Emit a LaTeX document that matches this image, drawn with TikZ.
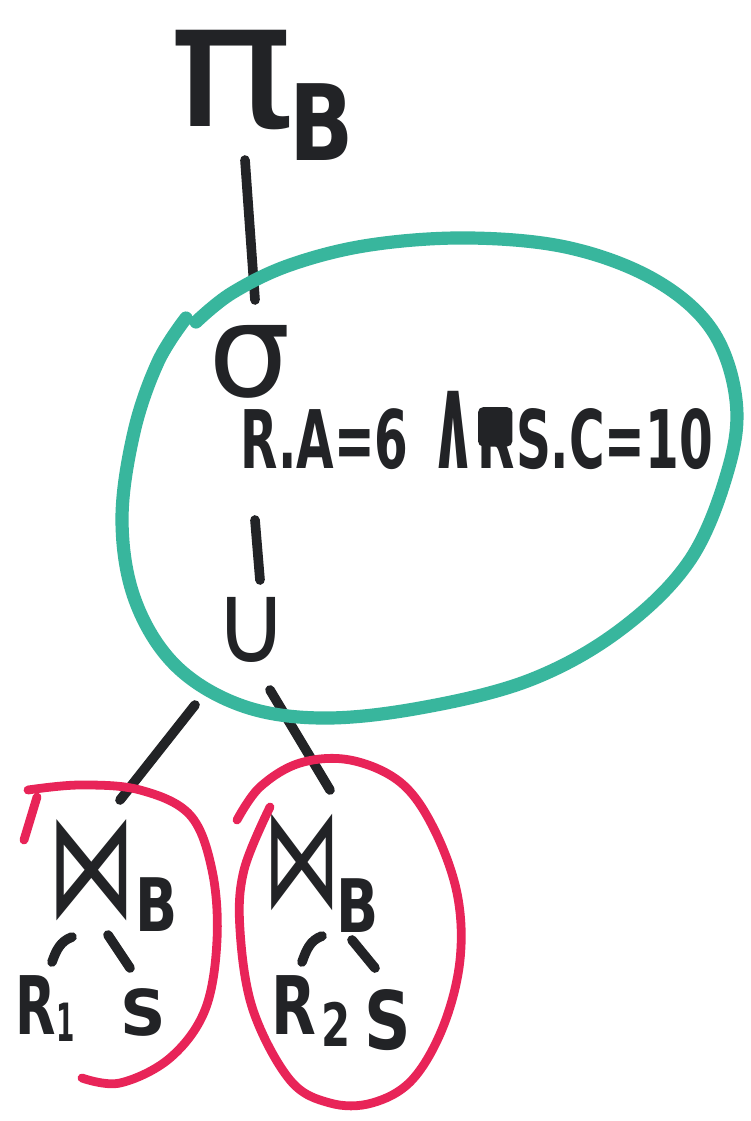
\documentclass[tikz,border=0pt]{standalone}
\usepackage{fontspec}
\setmainfont{DejaVu Sans}
\usetikzlibrary{calc}
\definecolor{inkc}{HTML}{222326}
\definecolor{tealc}{HTML}{38B69D}
\definecolor{redc}{HTML}{E82458}
\newcommand\fsz[1]{\fontsize{#1}{#1}\selectfont\bfseries}
\newcommand\fsr[1]{\fontsize{#1}{#1}\selectfont}
\begin{document}
\begin{tikzpicture}[x=0.02cm,y=-0.02cm,
  ink/.style={draw=inkc,line width=5.5pt,line cap=round},
  glyph/.style={inner sep=0pt,outer sep=0pt,text=inkc},
  condtext/.style={glyph,anchor=base west,font=\fsz{46}},
  tealloop/.style={draw=tealc,line width=7.5pt,line cap=round,line join=round},
  redloop/.style={draw=redc,line width=5pt,line cap=round,line join=round}]
\useasboundingbox[fill=white] (0,0) rectangle (750,1121);

% projection
\node[glyph,font=\fsr{60}] (pi) at (232,80) {\scalebox{2}[1.67]{π}};
\node[glyph,font=\fsz{60}] (piB) at (322,122) {\scalebox{0.8}[1]{B}};

% selection
\node[glyph,font=\fsr{50}] (sigma) at (250,362) {\scalebox{1.48}{σ}};
\node[condtext] (condA) at (240,468) {\scalebox{0.6}[1]{R.A=6}};
\node[condtext] (condAnd) at (430,468) {\scalebox{0.7}[1.65]{∧}};
\node[condtext] (condR) at (477,468) {\scalebox{0.6}[1]{R}};
\node[condtext] (condB) at (516,468) {\scalebox{0.6}[1]{S.C=10}};
\fill[inkc,rounded corners=3pt] ($(condR.north west)+(1,-2)$) rectangle ($(condR.east)+(-2,8)$);

% union
\node[glyph,font=\fsr{64}] (union) at (252,630) {\scalebox{0.9}[1]{∪}};

% left join
\node[glyph,font=\fsr{84}] (join1) at (92,870) {\scalebox{0.6}[1]{⋈}};
\node[glyph,font=\fsz{42}] (j1B) at (157,905) {\scalebox{0.75}[1]{B}};
\node[glyph,font=\fsz{46}] (R1) at (36,1005) {\scalebox{0.65}[1]{R}};
\node[glyph,font=\fsz{30}] (R1i) at (66,1022) {\scalebox{0.5}[1]{1}};
\node[glyph,font=\fsz{36}] (S1) at (143,1012) {S};

% right join
\node[glyph,font=\fsr{80}] (join2) at (302,862) {\scalebox{0.55}[1]{⋈}};
\node[glyph,font=\fsz{42}] (j2B) at (358,906) {\scalebox{0.75}[1]{B}};
\node[glyph,font=\fsz{46}] (R2) at (294,1005) {\scalebox{0.72}[1]{R}};
\node[glyph,font=\fsz{34}] (R2i) at (336,1024) {\scalebox{0.7}[1]{2}};
\node[glyph,font=\fsz{46}] (S2) at (388,1020) {\scalebox{0.8}[1]{S}};

% tree edges
\draw[ink] ($(pi)+(13,80)$) -- ($(sigma)+(5,-62)$);
\draw[ink] ($(sigma)+(5,158)$) -- ($(union)+(8,-50)$);
\draw[ink] ($(union)+(-57,75)$) -- ($(join1)+(28,-70)$);
\draw[ink] ($(union)+(18,60)$) -- ($(join2)+(28,-72)$);
\draw[ink] ($(R1)+(16,-43)$) to[out=70,in=200] ($(join1)+(-20,67)$);
\draw[ink] ($(join1)+(16,65)$) -- ($(join1)+(38,98)$);
\draw[ink] ($(R2)+(8,-43)$) to[out=70,in=200] ($(join2)+(20,74)$);
\draw[ink] ($(join2)+(50,78)$) -- ($(join2)+(73,106)$);

% highlighted subexpressions
\draw[tealloop] plot[smooth,tension=0.6] coordinates {
  (186,318) (158,362) (134,432) (122,520) (135,600) (175,665) (240,705)
  (320,718) (420,708) (530,680) (620,630) (690,560) (728,470) (736,400)
  (712,330) (655,280) (570,248) (470,238) (370,245) (290,265) (232,293)
  (196,322)};
\draw[redloop] plot[smooth,tension=0.6] coordinates {
  (28,790) (80,785) (140,790) (190,815) (212,870) (217,940) (205,1010)
  (170,1058) (120,1083) (82,1078)};
\draw[redloop] (37,797) -- (24,840);
\draw[redloop] plot[smooth,tension=0.6] coordinates {
  (270,807) (244,870) (240,930) (253,1010) (290,1080) (330,1103) (372,1103)
  (412,1080) (443,1027) (460,960) (457,893) (433,827) (400,782) (350,760)
  (300,763) (260,787) (237,820)};
\end{tikzpicture}
\end{document}
